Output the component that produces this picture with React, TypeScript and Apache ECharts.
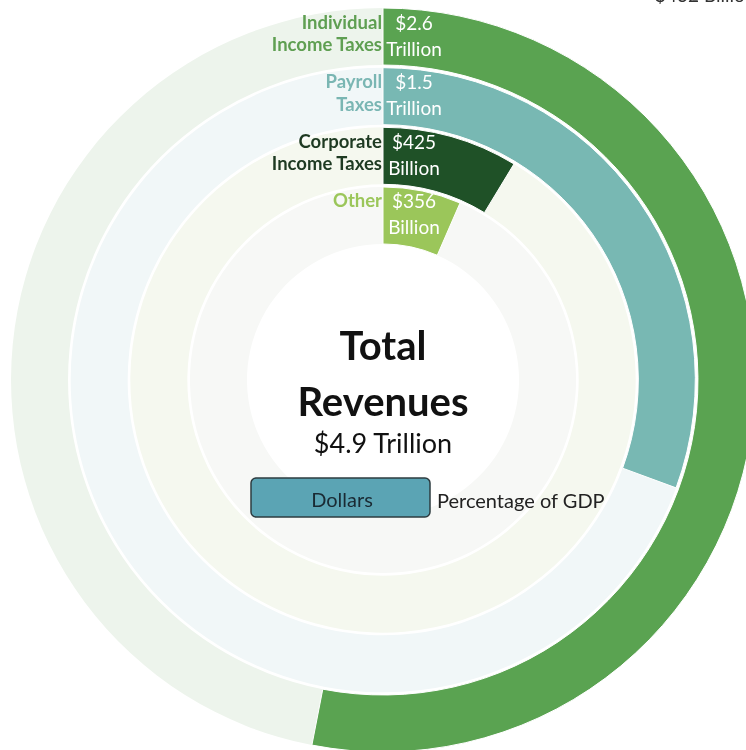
import React, { useEffect, useRef } from "react";
import * as echarts from "echarts";

// Categories from innermost ring to outermost ring
const categories = ["Other", "Corporate Income Taxes", "Payroll Taxes", "Individual Income Taxes"];
// Revenue in trillions of dollars (bar length as drawn)
const values = [0.32, 0.425, 1.5, 2.6];
const totalRevenue = 4.9;
const valueLabels = [
  ["$356", "Billion"],
  ["$425", "Billion"],
  ["$1.5", "Trillion"],
  ["$2.6", "Trillion"],
];
const nameLines = [["Other"], ["Corporate", "Income Taxes"], ["Payroll", "Taxes"], ["Individual", "Income Taxes"]];
const barColors = ["#9bc65a", "#1f5127", "#78b8b3", "#5aa351"];
const bgColors = ["#f7f8f6", "#f5f8ef", "#f1f7f8", "#edf4ec"];
const nameColors = ["#9bc65a", "#1e3a22", "#7ab6b3", "#5f9f52"];

const CX = 383;
const CY = 380;
const R_IN = 134.7;
const R_OUT = 373.3;
const BAR_W = 57;
const FONT = "Lato, 'Noto Sans', sans-serif";

export default function App() {
  const ref = useRef<HTMLDivElement>(null);
  useEffect(() => {
    if (!ref.current) return;
    const chart = echarts.init(ref.current, null, { renderer: "svg" });
    const band = (R_OUT - R_IN) / categories.length;
    const graphics: any[] = [];
    categories.forEach((_, i) => {
      const rOut = R_IN + band * (i + 1) - (band - BAR_W) / 2;
      const top = CY - rOut;
      nameLines[i].forEach((line, j) => {
        graphics.push({
          type: "text",
          z: 100,
          x: 382,
          y: top + 13.5 + j * 22.5,
          style: {
            text: line,
            font: `bold 18.5px ${FONT}`,
            fill: nameColors[i],
            textAlign: "right",
            textVerticalAlign: "middle",
          },
        });
      });
      valueLabels[i].forEach((line, j) => {
        graphics.push({
          type: "text",
          z: 100,
          x: 414,
          y: top + 14 + j * 26,
          style: {
            text: line,
            font: `19px ${FONT}`,
            fill: "#ffffff",
            textAlign: "center",
            textVerticalAlign: "middle",
          },
        });
      });
    });
    graphics.push(
      {
        type: "text",
        z: 100,
        x: CX,
        y: 345,
        style: { text: "Total", font: `bold 40px ${FONT}`, fill: "#111", textAlign: "center", textVerticalAlign: "middle" },
      },
      {
        type: "text",
        z: 100,
        x: CX,
        y: 401,
        style: { text: "Revenues", font: `bold 40px ${FONT}`, fill: "#111", textAlign: "center", textVerticalAlign: "middle" },
      },
      {
        type: "text",
        z: 100,
        x: CX,
        y: 442,
        style: { text: "$4.9 Trillion", font: `27px ${FONT}`, fill: "#111", textAlign: "center", textVerticalAlign: "middle" },
      },
      {
        type: "rect",
        z: 100,
        shape: { x: 251, y: 478, width: 179, height: 39, r: 5 },
        style: { fill: "#5ba4b4", stroke: "#2e3c40", lineWidth: 1.5 },
      },
      {
        type: "text",
        z: 101,
        x: 342,
        y: 499,
        style: { text: "Dollars", font: `20px ${FONT}`, fill: "#1a2a33", textAlign: "center", textVerticalAlign: "middle" },
      },
      {
        type: "text",
        z: 100,
        x: 437,
        y: 500,
        style: { text: "Percentage of GDP", font: `20px ${FONT}`, fill: "#222", textAlign: "left", textVerticalAlign: "middle" },
      },
      {
        type: "text",
        z: 100,
        x: 655,
        y: 4,
        style: { text: "$432 Billion", font: `19px ${FONT}`, fill: "#333", textAlign: "left", textVerticalAlign: "bottom" },
      }
    );

    chart.setOption({
      animation: false,
      polar: { center: [CX, CY], radius: [R_IN, R_OUT] },
      angleAxis: {
        type: "value",
        min: 0,
        max: totalRevenue,
        startAngle: 90,
        clockwise: true,
        show: false,
      },
      radiusAxis: { type: "category", data: categories, show: false },
      series: [
        {
          type: "bar",
          coordinateSystem: "polar",
          stack: "ring",
          barWidth: BAR_W,
          z: 2,
          data: values.map((v, i) => ({
            value: v,
            itemStyle: { color: barColors[i], borderColor: "#ffffff", borderWidth: 1 },
          })),
        },
        {
          type: "bar",
          coordinateSystem: "polar",
          stack: "ring",
          barWidth: BAR_W,
          silent: true,
          z: 1,
          data: values.map((v, i) => ({ value: totalRevenue - v, itemStyle: { color: bgColors[i] } })),
        },
      ],
      graphic: graphics,
    });
    return () => chart.dispose();
  }, []);
  return <div ref={ref} style={{ position: "fixed", left: 0, top: 0, width: 746, height: 750 }} />;
}
